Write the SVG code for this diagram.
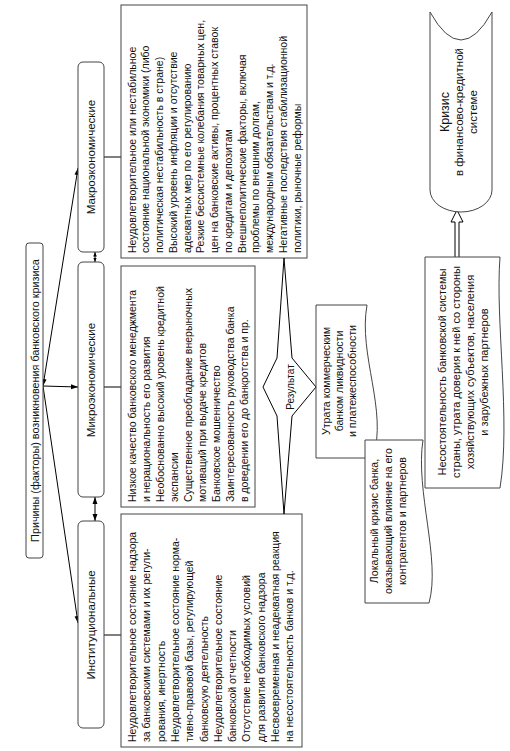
<svg xmlns="http://www.w3.org/2000/svg" width="510" height="751" viewBox="0 0 510 751">
<defs>
<style>
.box{fill:#fff;stroke:#444;stroke-width:1}
.ln{stroke:#000;stroke-width:1;fill:none}
.t{font-family:"Liberation Sans",Arial,sans-serif;font-size:10.5px;fill:#111}
.lb{font-family:"Liberation Sans",Arial,sans-serif;font-size:11.5px;fill:#111;text-anchor:middle}
.s{font-family:"Liberation Sans",Arial,sans-serif;font-size:10.6px;fill:#111;text-anchor:middle}
</style>
<marker id="ah" viewBox="0 0 10 10" refX="10" refY="5" markerWidth="7" markerHeight="7" orient="auto-start-reverse"><path d="M0,1.5 L10,5 L0,8.5 z" fill="#000"/></marker>
<marker id="ahs" viewBox="0 0 10 10" refX="10" refY="5" markerWidth="4.5" markerHeight="5" orient="auto-start-reverse"><path d="M0,1 L10,5 L0,9 z" fill="#000"/></marker>
</defs>
<rect width="510" height="751" fill="#fff"/>

<g id="connectors">
<path class="ln" d="M43,386 L78,168" marker-start="url(#ah)" marker-end="url(#ah)"/>
<path class="ln" d="M43,386 L78,387" marker-end="url(#ah)"/>
<path class="ln" d="M43,386 L78,623" marker-end="url(#ah)"/>
<path class="ln" d="M95,252 L95,262" marker-start="url(#ahs)" marker-end="url(#ahs)"/>
<path class="ln" d="M95,497 L95,521" marker-start="url(#ah)" marker-end="url(#ah)"/>
<path class="ln" d="M104,157 H121"/>
<path class="ln" d="M104,387 H121"/>
<path class="ln" d="M104,635 H121"/>
<path d="M455,257 V222 H451 L457,210 L463,222 H459 V257" fill="#fff" stroke="#000" stroke-width="1"/>
</g>

<g id="title">
<rect class="box" x="26" y="243" width="17" height="315" rx="3"/>
<text class="lb" style="font-size:10.8px" transform="translate(38.5,400.5) rotate(-90)">Причины (факторы) возникновения банковского кризиса</text>
</g>

<g id="makro">
<rect class="box" x="78" y="62" width="26" height="190" rx="5"/>
<text class="lb" transform="translate(95,157) rotate(-90)">Макроэкономические</text>
</g>
<g id="mikro">
<rect class="box" x="78" y="262" width="26" height="235" rx="5"/>
<text class="lb" transform="translate(95,380) rotate(-90)">Микроэкономические</text>
</g>
<g id="inst">
<rect class="box" x="78" y="521" width="26" height="207" rx="5"/>
<text class="lb" transform="translate(95,625) rotate(-90)">Институциональные</text>
</g>

<g id="makro-text">
<rect class="box" x="121" y="5" width="186" height="253"/>
<g class="t" transform="translate(121,253) rotate(-90)">
<text x="0" y="14.5">Неудовлетворительное или нестабильное</text>
<text x="0" y="28.25">состояние национальной экономики (либо</text>
<text x="0" y="42">политическая нестабильность в стране)</text>
<text x="0" y="55.75">Высокий уровень инфляции и отсутствие</text>
<text x="0" y="69.5">адекватных мер по его регулированию</text>
<text x="0" y="83.25">Резкие бессистемные колебания товарных цен,</text>
<text x="0" y="97">цен на банковские активы, процентных ставок</text>
<text x="0" y="110.75">по кредитам и депозитам</text>
<text x="0" y="124.5">Внешнеполитические факторы, включая</text>
<text x="0" y="138.25">проблемы по внешним долгам,</text>
<text x="0" y="152">международным обязательствам и т.д.</text>
<text x="0" y="165.75">Негативные последствия стабилизационной</text>
<text x="0" y="179.5">политики, рыночные реформы</text>
</g>
</g>

<g id="mikro-text">
<rect class="box" x="121" y="266" width="134" height="241"/>
<g class="t" transform="translate(121,502) rotate(-90)">
<text x="0" y="14.5">Низкое качество банковского менеджмента</text>
<text x="0" y="28.6">и нерациональность его развития</text>
<text x="0" y="42.7">Необоснованно высокий уровень кредитной</text>
<text x="0" y="56.8">экспансии</text>
<text x="0" y="70.9">Существенное преобладание внерыночных</text>
<text x="0" y="85">мотиваций при выдаче кредитов</text>
<text x="0" y="99.1">Банковское мошенничество</text>
<text x="0" y="113.2">Заинтересованность руководства банка</text>
<text x="0" y="127.3">в доведении его до банкротства и пр.</text>
</g>
</g>

<g id="inst-text">
<rect class="box" x="121" y="514" width="181" height="233"/>
<g class="t" transform="translate(121,742) rotate(-90)">
<text x="0" y="15">Неудовлетворительное состояние надзора</text>
<text x="0" y="29.3">за банковскими системами и их регули-</text>
<text x="0" y="43.6">рования, инертность</text>
<text x="0" y="57.9">Неудовлетворительное состояние норма-</text>
<text x="0" y="72.2">тивно-правовой базы, регулирующей</text>
<text x="0" y="86.5">банковскую деятельность</text>
<text x="0" y="100.8">Неудовлетворительное состояние</text>
<text x="0" y="115.1">банковской отчетности</text>
<text x="0" y="129.4">Отсутствие необходимых условий</text>
<text x="0" y="143.7">для развития банковского надзора</text>
<text x="0" y="158">Несвоевременная и неадекватная реакция</text>
<text x="0" y="172.3">на несостоятельность банков и т.д.</text>
</g>
</g>

<g id="result">
<polygon class="box" style="stroke:#000" points="284,258 292,358 316,387 292,416 284,514 277,416 263,387 277,358"/>
<text class="s" style="font-size:10px" transform="translate(293.5,387) rotate(-90)">Результат</text>
</g>

<g id="utrata">
<path class="box" d="M316,305 H367 C358,355 388,410 373,458 H316 Z"/>
<g class="s" transform="translate(0,381) rotate(-90)">
<text x="0" y="330">Утрата коммерческим</text>
<text x="0" y="343">банком ликвидности</text>
<text x="0" y="356">и платежеспособности</text>
</g>
</g>

<g id="lokal">
<path class="box" d="M365,440 H423 C415,490 441,560 429,603 H365 Z"/>
<g class="s" transform="translate(0,521) rotate(-90)">
<text x="0" y="378">Локальный кризис банка,</text>
<text x="0" y="392">оказывающий влияние на его</text>
<text x="0" y="406">контрагентов и партнеров</text>
</g>
</g>

<g id="nesost">
<path class="box" d="M425,257 H500 C495,320 511,420 500,488 H425 Z"/>
<g class="s" style="font-size:11px" transform="translate(0,372) rotate(-90)">
<text x="0" y="446">Несостоятельность банковской системы</text>
<text x="0" y="460">страны, утрата доверия к ней со стороны</text>
<text x="0" y="474">хозяйствующих субъектов, населения</text>
<text x="0" y="488">и зарубежных партнеров</text>
</g>
</g>

<g id="kriz">
<path class="box" d="M430,12 Q461,68 492,12 V190 A31,22 0 0 1 430,190 Z"/>
<g class="s" style="font-size:11.5px" transform="translate(0,112) rotate(-90)">
<text x="0" y="449" style="font-size:12.5px">Кризис</text>
<text x="0" y="463">в финансово-кредитной</text>
<text x="0" y="477">системе</text>
</g>
</g>
</svg>
